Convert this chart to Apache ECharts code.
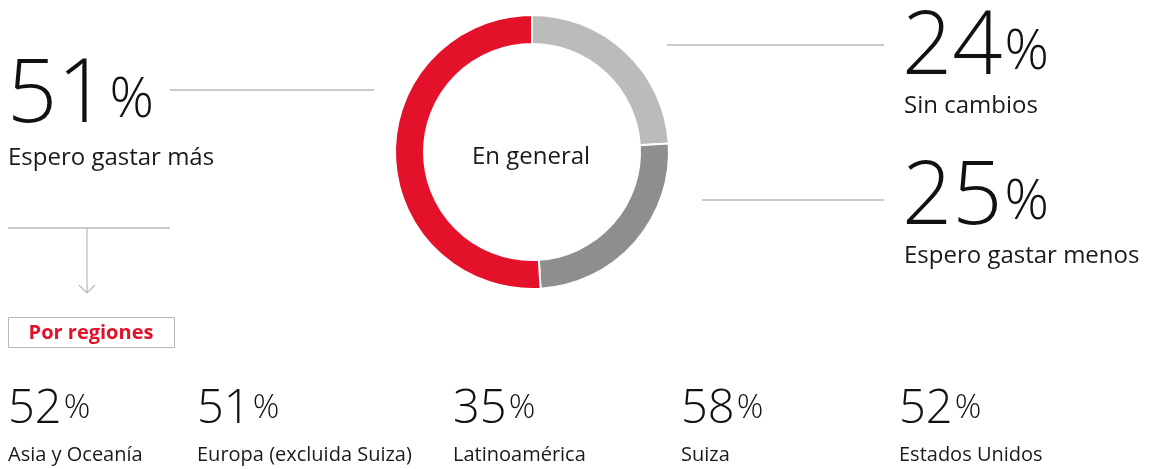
<!DOCTYPE html>
<html>
<head>
<meta charset="utf-8">
<title>En general</title>
<script src="https://cdn.jsdelivr.net/npm/echarts@6/dist/echarts.min.js"></script>
<style>
  html, body { margin: 0; padding: 0; background: #fff; }
  #chart { width: 1154px; height: 469px; }
</style>
</head>
<body>
<div id="chart"></div>
<script>
// datos generales (orden del anillo, empezando arriba y en sentido horario)
var overallLabels = ["Sin cambios", "Espero gastar menos", "Espero gastar más"];
var overallValues = [24, 25, 51];
var overallColors = ["#bbbbba", "#8f8e8c", "#e4112a"];

// por regiones
var regionNames = ["Asia y Oceanía", "Europa (excluida Suiza)", "Latinoamérica", "Suiza", "Estados Unidos"];
var regionValues = [52, 51, 35, 58, 52];
var regionX = [8, 197, 453, 681, 899];

var FONT = "'Open Sans', 'Noto Sans', sans-serif";
var LINE = "#b8b8b8";

var myChart = echarts.init(document.getElementById("chart"));

// texto grande tipo "51%"
function bigNumber(x, y, value, big, small, lift) {
  return {
    type: "text",
    left: x,
    top: y,
    silent: true,
    style: {
      text: "{n|" + value + "}{p|%}",
      fontFamily: FONT,
      rich: {
        n: { fontSize: big, fontWeight: 300, lineHeight: big, verticalAlign: "bottom", fill: "#111", fontFamily: FONT },
        p: { fontSize: small, fontWeight: 300, lineHeight: small, verticalAlign: "bottom", fill: "#111", fontFamily: FONT, padding: [0, 0, lift, 2] }
      }
    }
  };
}

function label(x, y, text, size) {
  return {
    type: "text",
    left: x,
    top: y,
    silent: true,
    style: { text: text, fontSize: size, fontFamily: FONT, fill: "#1a1a1a" }
  };
}

function hline(x1, x2, y) {
  return {
    type: "line",
    silent: true,
    shape: { x1: x1, y1: y, x2: x2, y2: y },
    style: { stroke: LINE, lineWidth: 1.5 }
  };
}

var graphics = [
  // izquierda: 51 %
  bigNumber(7, 53, overallValues[2], 88, 55, 12),
  label(8, 146, overallLabels[2], 24),
  hline(170, 374, 90),
  // derecha: 24 % y 25 %
  bigNumber(902, 5, overallValues[0], 88, 55, 12),
  label(904, 94, overallLabels[0], 24),
  hline(667, 884, 45),
  bigNumber(902, 155, overallValues[1], 88, 55, 12),
  label(904, 244, overallLabels[1], 24),
  hline(702, 884, 200),
  // flecha hacia "Por regiones"
  hline(8, 170, 228),
  {
    type: "line", silent: true,
    shape: { x1: 87, y1: 228, x2: 87, y2: 293 },
    style: { stroke: LINE, lineWidth: 1.2 }
  },
  {
    type: "polyline", silent: true,
    shape: { points: [[79, 285], [87, 293], [95, 285]] },
    style: { stroke: LINE, lineWidth: 1.2, fill: null }
  },
  {
    type: "rect", silent: true,
    shape: { x: 8.5, y: 317.5, width: 166, height: 30 },
    style: { fill: "#fff", stroke: LINE, lineWidth: 1 }
  },
  {
    type: "text", silent: true,
    x: 91, y: 333,
    style: {
      text: "Por regiones", fontSize: 20, fontWeight: "bold", fontFamily: FONT,
      fill: "#e4112a", align: "center", verticalAlign: "middle"
    }
  },
  // texto central
  {
    type: "text", silent: true,
    x: 531, y: 157,
    style: {
      text: "En general", fontSize: 24, fontFamily: FONT, fill: "#1a1a1a",
      align: "center", verticalAlign: "middle"
    }
  }
];

regionNames.forEach(function (name, i) {
  graphics.push(bigNumber(regionX[i], 386, regionValues[i], 47, 33, 8));
  graphics.push(label(regionX[i], 445, name, 20));
});

var option = {
  animation: false,
  series: [
    {
      type: "pie",
      center: [532, 152],
      radius: [108, 137],
      startAngle: 90,
      clockwise: true,
      silent: true,
      label: { show: false },
      labelLine: { show: false },
      itemStyle: { borderColor: "#fff", borderWidth: 2 },
      data: overallValues.map(function (v, i) {
        return { name: overallLabels[i], value: v, itemStyle: { color: overallColors[i] } };
      })
    }
  ],
  graphic: graphics
};

myChart.setOption(option);

window.addEventListener("resize", function () {
  myChart.resize();
});
</script>
</body>
</html>
